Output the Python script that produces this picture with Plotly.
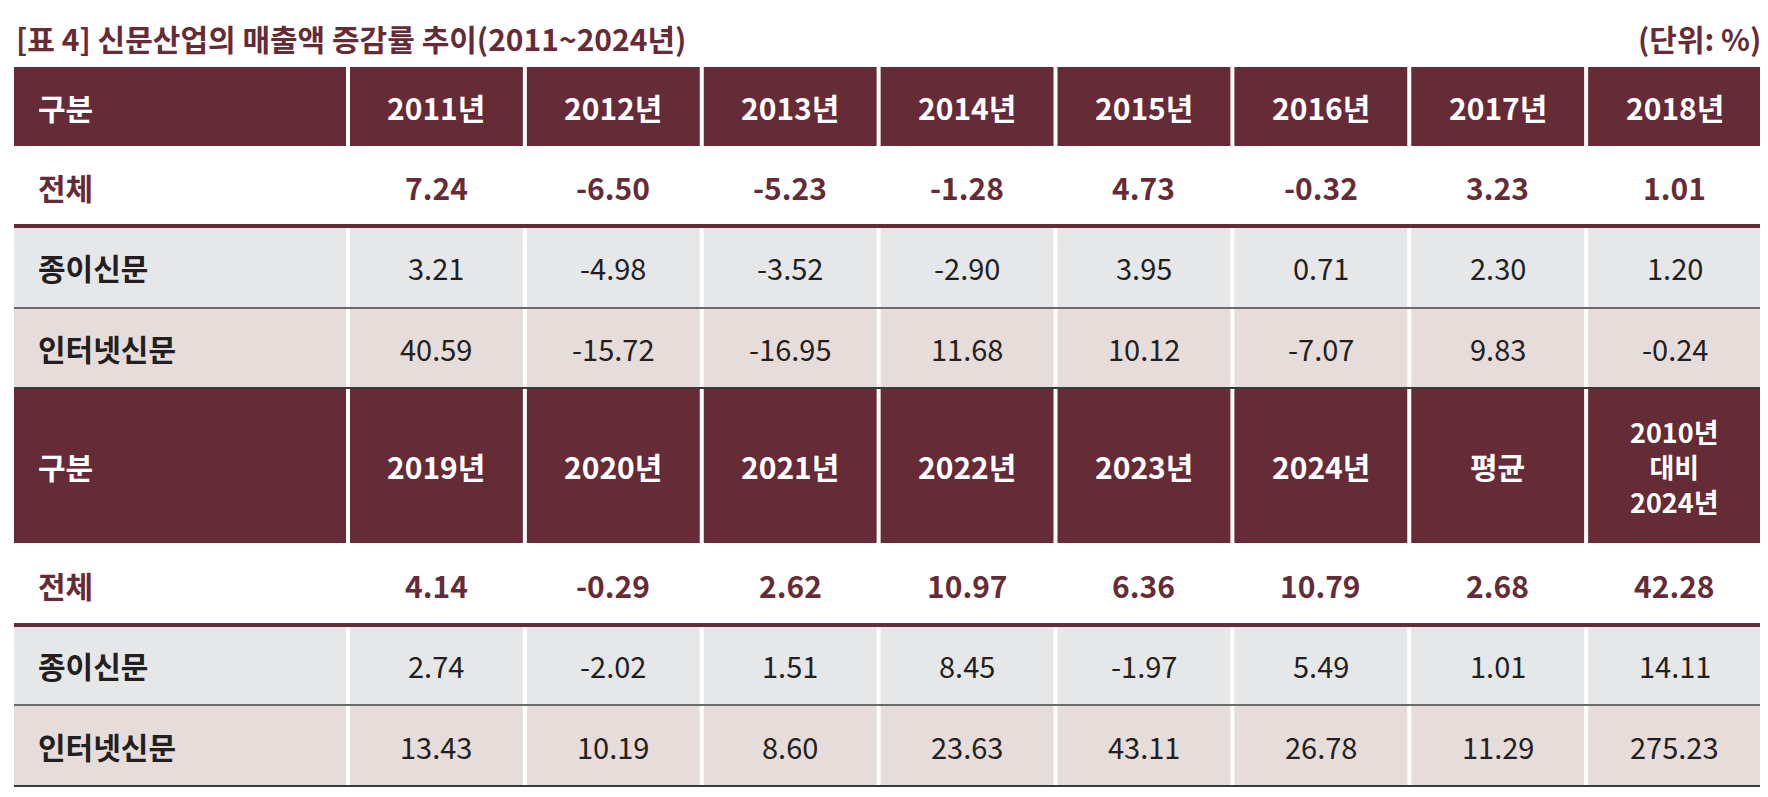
import plotly.graph_objects as go

title = "[표 4] 신문산업의 매출액 증감률 추이(2011~2024년)"
unit = "(단위: %)"
row_names = ["전체", "종이신문", "인터넷신문"]

header1 = ["2011년", "2012년", "2013년", "2014년", "2015년", "2016년", "2017년", "2018년"]
total1 = ["7.24", "-6.50", "-5.23", "-1.28", "4.73", "-0.32", "3.23", "1.01"]
paper1 = ["3.21", "-4.98", "-3.52", "-2.90", "3.95", "0.71", "2.30", "1.20"]
online1 = ["40.59", "-15.72", "-16.95", "11.68", "10.12", "-7.07", "9.83", "-0.24"]

header2 = ["2019년", "2020년", "2021년", "2022년", "2023년", "2024년", "평균", "2010년<br>대비<br>2024년"]
total2 = ["4.14", "-0.29", "2.62", "10.97", "6.36", "10.79", "2.68", "42.28"]
paper2 = ["2.74", "-2.02", "1.51", "8.45", "-1.97", "5.49", "1.01", "14.11"]
online2 = ["13.43", "10.19", "8.60", "23.63", "43.11", "26.78", "11.29", "275.23"]

MAROON = "#652C37"
GRAY = "#E6E7E9"
PINK = "#E6DCDA"
FONT = "Noto Sans CJK KR"

# layout geometry (pixels)
x0, x1, x_end = 6, 340, 1755
col_w = (x_end - x1) / 8
blocks = [
    (header1, total1, paper1, online1, [58, 139, 218, 300, 380]),
    (header2, total2, paper2, online2, [380, 536, 617, 697, 778]),
]

shapes, annos = [], []


def rect(xa, xb, ya, yb, color):
    shapes.append(dict(type="rect", x0=xa, x1=xb, y0=ya, y1=yb, fillcolor=color, line_width=0, layer="below"))


def line(ya, color, width):
    shapes.append(dict(type="line", x0=x0, x1=x_end, y0=ya, y1=ya, line=dict(color=color, width=width)))


def text(x, y, s, color, size, bold=False, align="center"):
    annos.append(dict(x=x, y=y, text="<b>%s</b>" % s if bold else s, showarrow=False, xanchor=align,
                      yanchor="middle", align="center",
                      font=dict(family=FONT, size=size, color=color)))


for head, tot, pap, onl, ys in blocks:
    fills = [MAROON, None, GRAY, PINK]
    rows = [head, tot, pap, onl]
    names = ["구분"] + row_names
    for r in range(4):
        ya, yb = ys[r], ys[r + 1]
        ym = (ya + yb) / 2
        edges = [x0, x1] + [x1 + col_w * (i + 1) for i in range(8)]
        if fills[r]:
            for c in range(9):
                rect(edges[c] + (0 if c == 0 else 2), edges[c + 1] - (0 if c == 8 else 2), ya + 1, yb - 1, fills[r])
        name_color = "white" if r == 0 else (MAROON if r == 1 else "#231F20")
        text(x0 + 22, ym, names[r], name_color, 30, bold=True, align="left")
        for c, v in enumerate(rows[r]):
            cx = (edges[c + 1] + edges[c + 2]) / 2
            if r == 0:
                text(cx, ym, v, "white", 27 if "<br>" in v else 30, bold=True)
            elif r == 1:
                text(cx, ym, v, MAROON, 30, bold=True)
            else:
                text(cx, ym, v, "#231F20", 29)
    line(ys[2], MAROON, 4)
    line(ys[3], "#3a3a3a", 1.5)
    line(ys[4], "#3a3a3a", 2)

text(x0, 30, title, MAROON, 30, bold=True, align="left")
text(x_end, 30, unit, MAROON, 30, bold=True, align="right")

fig = go.Figure()
fig.update_layout(
    width=1768, height=797, margin=dict(l=0, r=0, t=0, b=0),
    paper_bgcolor="white", plot_bgcolor="white",
    xaxis=dict(range=[0, 1768], visible=False, fixedrange=True),
    yaxis=dict(range=[797, 0], visible=False, fixedrange=True),
    shapes=shapes, annotations=annos, showlegend=False,
)
fig.write_html("out.html")
